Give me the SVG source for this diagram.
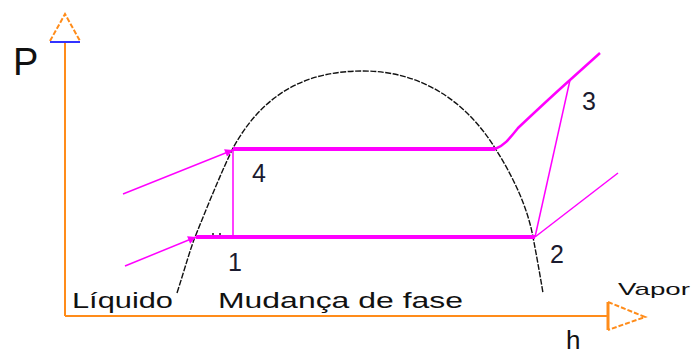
<svg xmlns="http://www.w3.org/2000/svg" width="694" height="356" viewBox="0 0 694 356">
<style>
.ax{stroke:#ff8c1a;stroke-width:2;fill:none}
.axd{stroke:#ff8c1a;stroke-width:2;fill:none;stroke-dasharray:5 2}
.dome{stroke:#111;stroke-width:1.4;fill:none;stroke-dasharray:6 1.5}
.thick{stroke:#ff00ff;stroke-width:4;fill:none}
.mid{stroke:#ff00ff;stroke-width:2.5;fill:none}
.thin{stroke:#ff00ff;stroke-width:1.5;fill:none}
.lbl{font-family:"Liberation Sans",Arial,sans-serif;fill:#1a1a2e}
.cad{font-family:"Liberation Sans",Arial,sans-serif;fill:#111}
</style>
<defs>
<marker id="ah" viewBox="0 0 10 10" refX="10" refY="5" markerWidth="10" markerHeight="8" orient="auto" markerUnits="userSpaceOnUse">
<path d="M0,0 L10,5 L0,10 z" fill="#ff00ff"/>
</marker>
</defs>
<rect width="694" height="356" fill="#fff"/>
<g id="axes">
<line class="ax" x1="65" y1="42" x2="65" y2="316"/>
<line class="ax" x1="65" y1="316" x2="608" y2="316"/>
<path class="axd" d="M50,41 L65,14 L80,41"/>
<line x1="50" y1="42" x2="80" y2="42" stroke="#3333ff" stroke-width="2"/>
<line x1="608" y1="302" x2="608" y2="330" stroke="#ff8c1a" stroke-width="3"/>
<path class="axd" d="M608,302 L645,317 L608,330"/>
</g>
<g id="dome">
<path class="dome" d="M177,293 C185,268 190,250 195,237 C208,205 220,175 233,148 C265,90 310,71 363,71 C420,71 465,100 495,148 C512,175 527,205 533,237 C537,258 540,275 543,293"/>
</g>
<g id="connectors">
<line class="thick" x1="233" y1="149" x2="495" y2="149"/>
<line class="thick" x1="196" y1="237" x2="535" y2="237"/>
<line class="thin" x1="233" y1="149" x2="233" y2="237"/>
<line class="thin" x1="123" y1="194" x2="233" y2="150" marker-end="url(#ah)"/>
<line class="thin" x1="125" y1="266" x2="196" y2="237" marker-end="url(#ah)"/>
<path class="mid" d="M495,149 C505,145 510,138 518,128 C535,112 552,96 570,80 L600,53"/>
<line class="thin" x1="570" y1="80" x2="535" y2="237"/>
<line class="thin" x1="535" y1="237" x2="618" y2="173"/>
<path d="M212,234 h2 M219,234 h2" stroke="#111" stroke-width="1.5"/>
</g>
<g id="labels">
<text class="cad" x="13" y="75" font-size="38">P</text>
<text class="cad" x="566" y="349" font-size="26">h</text>
<text class="cad" x="618" y="295" font-size="17" textLength="72" lengthAdjust="spacingAndGlyphs" fill="#333">Vapor</text>
<text class="cad" x="72" y="308" font-size="22" textLength="101" lengthAdjust="spacingAndGlyphs">Líquido</text>
<text class="cad" x="218" y="308" font-size="22" textLength="245" lengthAdjust="spacingAndGlyphs">Mudança de fase</text>
<text class="lbl" x="252" y="182" font-size="25">4</text>
<text class="lbl" x="228" y="271" font-size="25">1</text>
<text class="lbl" x="582" y="110" font-size="25">3</text>
<text class="lbl" x="550" y="263" font-size="25">2</text>
</g>
</svg>
